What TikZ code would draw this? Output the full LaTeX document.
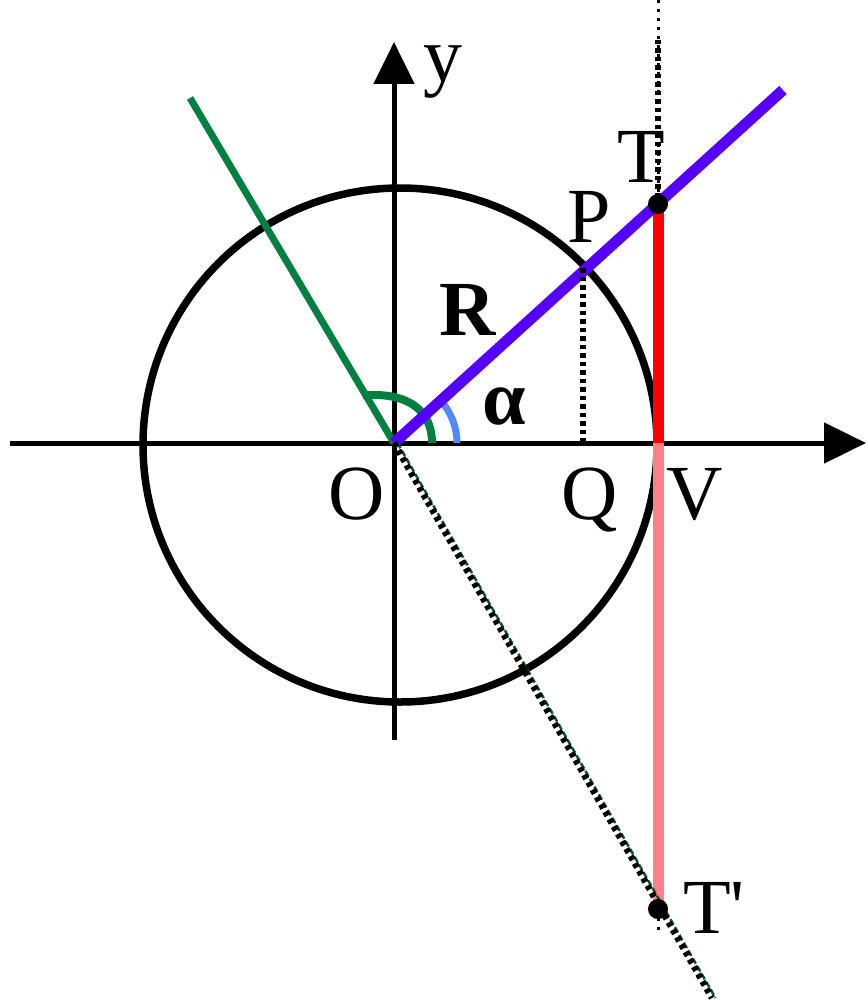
\documentclass[tikz,border=0pt]{standalone}
\usepackage{fontspec}
\setmainfont{Liberation Serif}
\usetikzlibrary{arrows.meta}
\definecolor{bluel}{RGB}{85,0,255}
\definecolor{redl}{RGB}{255,0,0}
\definecolor{pinkl}{RGB}{255,128,136}
\definecolor{greenl}{RGB}{0,128,64}
\definecolor{arcblue}{RGB}{85,136,255}
\begin{document}
\begin{tikzpicture}[x=1pt,y=-1pt,
  lbl/.style={font=\fontsize{78}{90}\selectfont,anchor=base,inner sep=0pt},
  axis/.style={line width=5pt,-{Triangle[length=42pt,width=40pt]}},
  bigdots/.style={line width=6.5pt,dash pattern=on 4.5pt off 4pt},
  thindots/.style={line width=3pt,dash pattern=on 3pt off 6pt},
  dot/.style={circle,fill=black,inner sep=0pt,minimum size=20pt}]
\useasboundingbox (0,0) rectangle (867,1000);
% points
\coordinate (O) at (394,443);
\coordinate (V) at (658,443);
\coordinate (T) at (658,204);
\coordinate (Tp) at (658,909);
\coordinate (P) at (583,268);
\coordinate (Q) at (583,443);
\coordinate (Bend) at (783,90);
\coordinate (Gend) at (190,98);
\coordinate (Dend) at (712,998);
\coordinate (Xs) at (10,443);
\coordinate (Xe) at (866,443);
\coordinate (Ys) at (394,740);
\coordinate (Ye) at (394,42);
\coordinate (Top) at (658,0);
\coordinate (Low) at (658,930);
\coordinate (Mid) at (658,40);
\coordinate (GA1) at (432,443);
\coordinate (GA2) at (363,395);
% vertical dotted line
\draw[thindots] (Top) -- (Low);
\draw[bigdots] (Mid) -- (T);
% circle
\draw[line width=7.5pt] (400,445) circle[radius=257pt];
% axes
\draw[axis] (Xs) -- (Xe);
\draw[axis] (Ys) -- (Ye);
% tangent segments
\draw[redl,line width=11pt] (T) -- (V);
\draw[pinkl,line width=11pt] (V) -- (Tp);
% green radius and arc
\draw[greenl,line width=7pt] (O) -- (Gend);
\draw[greenl,line width=8pt] (GA1) .. controls (432,408) and (405,395) .. (375,395) -- (GA2);
% blue arc
\draw[arcblue,line width=7pt] ([xshift=63pt]O) arc[start angle=0,end angle=42,radius=63pt];
% blue radius line
\draw[bluel,line width=11pt] (O) -- (Bend);
% dotted extension
\draw[greenl!70!black,line width=2.5pt,dash pattern=on 6pt off 3pt] ([xshift=3.5pt]O) -- ([xshift=3.5pt]Dend);
\draw[bigdots] (O) -- (Dend);
% P-Q dotted
\draw[bigdots] (P) -- (Q);
% dots
\node[dot] (Tdot) at (T) {};
\node[dot] (Tpdot) at (Tp) {};
% labels
\node[lbl] (ylab) at (443,82) {y};
\node[lbl] (Tlab) at (641,183) {T};
\node[lbl] (Plab) at (589,242) {P};
\node[lbl] (Rlab) at (468,335) {\bfseries R};
\node[lbl] (alab) at (504,424) {\bfseries α};
\node[lbl] (Olab) at (357,519) {O};
\node[lbl] (Qlab) at (590,519) {Q};
\node[lbl] (Vlab) at (695,519) {V};
\node[lbl] (Tplab) at (714,933) {T\textquotesingle};
\end{tikzpicture}
\end{document}
